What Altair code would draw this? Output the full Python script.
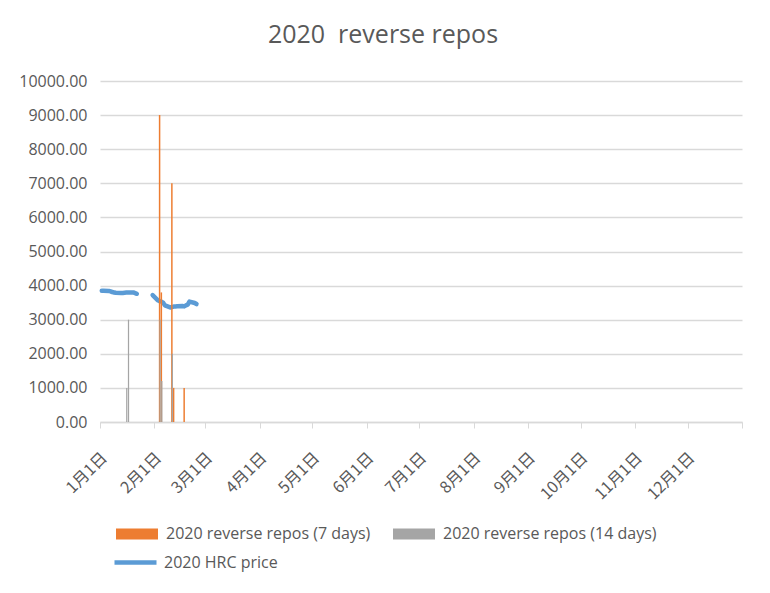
import altair as alt
import pandas as pd

# ---- data ----
SERIES_7D = "2020 reverse repos (7 days)"
SERIES_14D = "2020 reverse repos (14 days)"
SERIES_HRC = "2020 HRC price"

repo7_dates = ["2020-02-03", "2020-02-04", "2020-02-10", "2020-02-11", "2020-02-17"]
repo7_values = [9000, 3800, 7000, 1000, 1000]

repo14_dates = ["2020-01-15", "2020-01-16", "2020-02-03", "2020-02-04", "2020-02-10"]
repo14_values = [1000, 3000, 3000, 1200, 2000]

hrc_dates = [
    "2020-01-02", "2020-01-03", "2020-01-06", "2020-01-07", "2020-01-08",
    "2020-01-09", "2020-01-10", "2020-01-13", "2020-01-14", "2020-01-15",
    "2020-01-16", "2020-01-17", "2020-01-20", "2020-01-21", "2020-01-22",
    "2020-01-31", "2020-02-03", "2020-02-04", "2020-02-05", "2020-02-06",
    "2020-02-07", "2020-02-10", "2020-02-11", "2020-02-12", "2020-02-13",
    "2020-02-14", "2020-02-17", "2020-02-18", "2020-02-19", "2020-02-20",
    "2020-02-21", "2020-02-24", "2020-02-25",
]
hrc_values = [
    3850, 3850, 3845, 3830, 3810,
    3800, 3790, 3785, 3785, 3790,
    3795, 3800, 3800, 3780, 3760,
    3720, 3570, 3545, 3530, 3500,
    3420, 3360, 3370, 3385, 3390,
    3395, 3400, 3390, 3420, 3440,
    3530, 3490, 3460,
]
hrc_segment = [1] * 15 + [2] * 18

month_ticks = [(2020, m) for m in range(1, 13)] + [(2021, 1)]

# ---- tables ----
bars = pd.DataFrame({
    "date": repo7_dates + repo14_dates,
    "value": repo7_values + repo14_values,
    "series": [SERIES_7D] * len(repo7_dates) + [SERIES_14D] * len(repo14_dates),
})
line = pd.DataFrame({
    "date": hrc_dates,
    "price": hrc_values,
    "seg": hrc_segment,
    "line_series": [SERIES_HRC] * len(hrc_dates),
})

GREY_TXT = "#595959"
GRID = "#D9D9D9"
FONT = "Open Sans"

x_scale = alt.Scale(
    type="utc",
    domain=[alt.DateTime(year=2020, month=1, date=1, utc=True),
            alt.DateTime(year=2021, month=1, date=1, utc=True)],
)
y_scale = alt.Scale(domain=[0, 10000], nice=False, padding=0)

x_axis = alt.Axis(
    values=[alt.DateTime(year=y, month=m, date=1, utc=True) for y, m in month_ticks],
    labelExpr="utcyear(datum.value) > 2020 ? '' : utcFormat(datum.value, '%-m月%-d日')",
    labelAngle=-45, labelAlign="right", labelBaseline="middle",
    labelFont="Noto Sans CJK SC", labelFontSize=16, labelColor=GREY_TXT,
    labelPadding=27, labelOffset=4, labelOverlap=False, labelFlush=False, labelBound=False,
    tickSize=6, tickColor=GRID, domainColor=GRID, domainWidth=1.3,
    grid=False, title=None,
)
y_axis = alt.Axis(
    values=list(range(0, 10001, 1000)), format=".2f",
    labelFont=FONT, labelFontSize=16, labelColor=GREY_TXT, labelPadding=13,
    ticks=False, domain=False, grid=True, gridColor=GRID, gridWidth=1.3, title=None,
)

hrc_line = alt.Chart(line).mark_line(strokeWidth=4.5, strokeCap="round", strokeJoin="round").encode(
    x=alt.X("date:T", scale=x_scale, axis=x_axis),
    y=alt.Y("price:Q", scale=y_scale, axis=y_axis),
    detail="seg:N",
    stroke=alt.Stroke(
        "line_series:N",
        scale=alt.Scale(domain=[SERIES_HRC], range=["#5B9BD5"]),
        legend=alt.Legend(
            orient="none", legendX=12, legendY=458, title=None,
            symbolType="stroke", symbolSize=1764, symbolStrokeWidth=4.5,
            labelFont=FONT, labelFontSize=16, labelColor=GREY_TXT, labelOffset=5,
            labelLimit=400, padding=0,
        ),
    ),
)

repo_bars = alt.Chart(bars).transform_calculate(
    start="time(toDate(datum.date)) + (datum.series == '" + SERIES_7D + "' ? 0.55 : 0.9) * 86400000",
    end="time(toDate(datum.date)) + (datum.series == '" + SERIES_7D + "' ? 1.4 : 1.6) * 86400000",
).mark_bar(stroke=None).encode(
    x=alt.X("start:T", scale=x_scale, axis=x_axis),
    x2="end:T",
    y=alt.Y("value:Q", scale=y_scale, axis=y_axis),
    y2=alt.datum(0),
    color=alt.Color(
        "series:N",
        scale=alt.Scale(domain=[SERIES_7D, SERIES_14D], range=["#ED7D31", "#A5A5A5"]),
        sort=[SERIES_7D, SERIES_14D],
        legend=alt.Legend(
            orient="none", legendX=16, legendY=432, title=None, direction="horizontal",
            symbolType="M-1,-0.26H1V0.26H-1Z", symbolSize=1764, symbolStrokeWidth=0,
            labelFont=FONT, labelFontSize=16, labelColor=GREY_TXT, labelOffset=8,
            labelLimit=400, columnPadding=22, padding=0,
        ),
    ),
    order=alt.Order("series:N", sort="descending"),
)

chart = alt.layer(hrc_line, repo_bars).properties(
    width=642,
    height=341,
    autosize=alt.AutoSizeParams(type="none"),
    padding={"left": 92, "top": 73, "right": 16, "bottom": 163},
    title=alt.TitleParams(
        "2020\u00a0 reverse repos", font=FONT, fontSize=25, fontWeight="normal",
        color=GREY_TXT, anchor="middle", frame="group", dx=-38, offset=5,
        baseline="alphabetic",
    ),
    background="white",
).configure_view(stroke=None)

chart.save("out.html", embed_options={"renderer": "svg", "actions": False})
